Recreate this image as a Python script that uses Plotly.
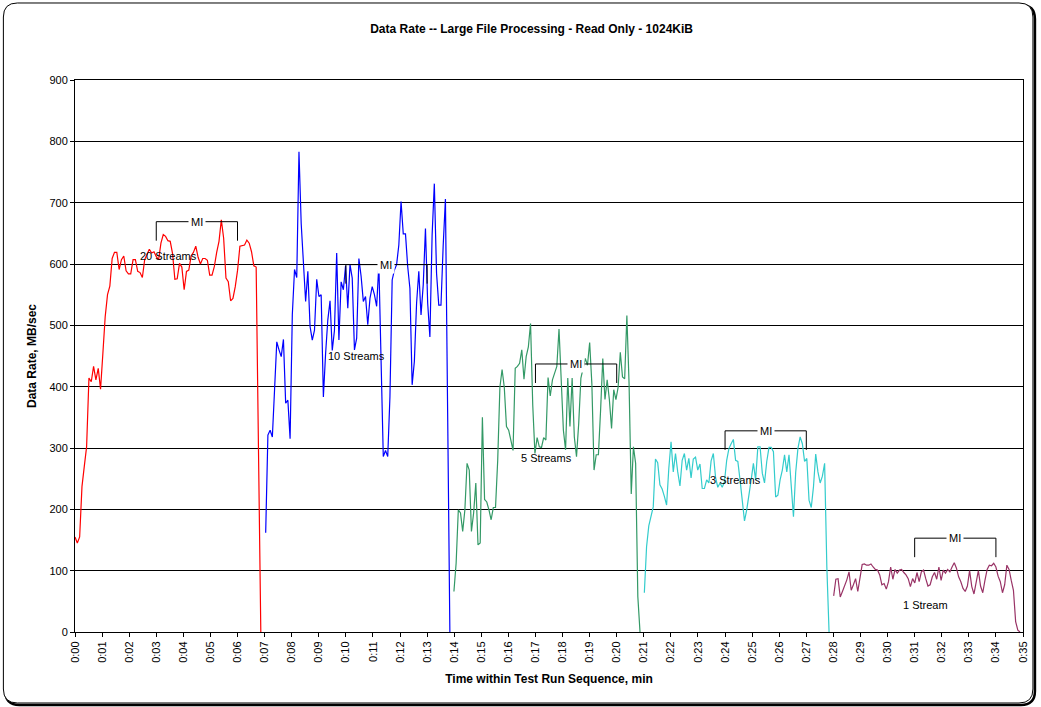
import numpy as np
import plotly.graph_objects as go

# --- data (minutes, MB/sec) ---
series_names = ["20 Streams", "10 Streams", "5 Streams", "3 Streams", "1 Stream"]
series_colors = ["#FF0000", "#0000FF", "#339966", "#33CCCC", "#993366"]
series_start = [0.00, 7.04, 13.99, 21.02, 28.01]
series_end = [6.86, 13.84, 20.86, 27.84, 34.89]

rate_20 = [155, 145, 155, 237, 270, 302, 414, 408, 433, 411, 430, 396, 454, 514, 550, 564, 609, 619, 619,
           591, 607, 613, 589, 584, 584, 607, 607, 588, 586, 578, 607, 617, 624, 618, 620, 612, 607, 634,
           648, 645, 638, 637, 617, 575, 576, 601, 595, 558, 588, 590, 613, 619, 629, 611, 600, 609, 609,
           606, 582, 582, 596, 619, 637, 672, 642, 577, 571, 540, 544, 563, 590, 629, 630, 631, 639, 634,
           620, 597, 595, 302, 0]
rate_10 = [162, 321, 329, 318, 395, 473, 460, 449, 477, 373, 378, 315, 517, 591, 578, 783, 666, 596, 539,
           588, 498, 476, 492, 575, 547, 550, 383, 454, 509, 540, 459, 492, 618, 476, 571, 558, 597, 528,
           599, 577, 460, 479, 609, 580, 539, 547, 501, 544, 563, 550, 531, 599, 449, 286, 296, 286, 384,
           574, 590, 599, 631, 702, 649, 649, 596, 560, 403, 441, 536, 588, 517, 566, 658, 536, 481, 647,
           731, 585, 533, 533, 631, 706, 357, 0]
rate_5 = [66, 112, 199, 194, 164, 199, 275, 264, 164, 194, 243, 142, 145, 350, 216, 212, 199, 183, 203,
          203, 280, 399, 428, 399, 335, 329, 313, 296, 430, 433, 438, 460, 412, 449, 465, 503, 370, 291,
          317, 302, 301, 317, 313, 415, 385, 411, 422, 433, 494, 411, 329, 297, 414, 335, 414, 318, 286,
          340, 414, 430, 446, 435, 472, 405, 264, 289, 289, 362, 446, 379, 411, 379, 332, 395, 379, 399,
          456, 416, 413, 516, 405, 225, 302, 275, 58, 0]
rate_3 = [64, 139, 173, 188, 204, 282, 276, 240, 233, 221, 207, 267, 310, 261, 291, 261, 238, 280, 291,
          264, 283, 251, 282, 285, 264, 274, 234, 234, 248, 243, 279, 291, 252, 236, 243, 236, 245, 280,
          299, 307, 314, 280, 278, 248, 218, 181, 199, 221, 248, 275, 248, 302, 302, 259, 243, 278, 301,
          301, 294, 220, 223, 248, 264, 289, 261, 289, 234, 188, 260, 299, 318, 307, 278, 283, 215, 203,
          237, 290, 261, 243, 254, 275, 106, 0]
rate_1 = [59, 86, 87, 57, 66, 75, 85, 98, 68, 77, 87, 66, 87, 110, 111, 109, 109, 111, 106, 102, 101, 93,
          77, 79, 70, 82, 106, 86, 102, 96, 101, 102, 97, 93, 87, 74, 87, 80, 97, 82, 98, 101, 87, 75, 77,
          90, 97, 86, 106, 84, 101, 96, 102, 98, 106, 113, 104, 90, 82, 71, 66, 75, 100, 74, 62, 79, 100,
          75, 64, 84, 102, 109, 108, 112, 106, 91, 82, 64, 77, 109, 102, 84, 68, 17, 3, 0]
series_values = [rate_20, rate_10, rate_5, rate_3, rate_1]

# label positions (minutes, MB/sec)
label_x = [3.45, 10.4, 17.4, 24.4, 31.4]
label_y = [613, 450, 283, 248, 44]

# measurement interval brackets
mi_start = [3, 10, 17, 24, 31]
mi_end = [6, 13, 20, 27, 34]
mi_level = [669, 599, 437, 328, 153]
mi_drop = 31

tick_vals = list(range(0, 36))
tick_text = ["0:%02d" % m for m in tick_vals]

FONT = "Liberation Sans, Arial, sans-serif"

fig = go.Figure()

for name, color, t0, t1, vals in zip(series_names, series_colors, series_start, series_end, series_values):
    fig.add_trace(go.Scatter(
        x=np.linspace(t0, t1, len(vals)),
        y=vals,
        mode="lines",
        name=name,
        line=dict(color=color, width=1.2),
        showlegend=False,
    ))

# stream labels
for name, lx, ly in zip(series_names, label_x, label_y):
    fig.add_annotation(x=lx, y=ly, text=name, showarrow=False,
                       font=dict(family=FONT, size=11, color="black"))

# MI brackets
for s, e, lvl in zip(mi_start, mi_end, mi_level):
    fig.add_shape(type="line", x0=s, x1=e, y0=lvl, y1=lvl, line=dict(color="black", width=1))
    fig.add_shape(type="line", x0=s, x1=s, y0=lvl, y1=lvl - mi_drop, line=dict(color="black", width=1))
    fig.add_shape(type="line", x0=e, x1=e, y0=lvl, y1=lvl - mi_drop, line=dict(color="black", width=1))
    fig.add_annotation(x=(s + e) / 2, y=lvl, text="MI", showarrow=False, bgcolor="white",
                       borderpad=2, font=dict(family=FONT, size=11, color="black"))

# outer chart frame (rounded, with shadow), in pixel -> paper units
L, T, W, H = 75, 80, 953, 552


def px(x):
    return (x - L) / W


def py(y):
    return (T + H - y) / H


def frame_path(x0, y0, x1, y1, r):
    return ("M %f %f L %f %f Q %f %f %f %f L %f %f Q %f %f %f %f "
            "L %f %f Q %f %f %f %f L %f %f Q %f %f %f %f Z") % (
        px(x0 + r), py(y0), px(x1 - r), py(y0),
        px(x1), py(y0), px(x1), py(y0 + r),
        px(x1), py(y1 - r),
        px(x1), py(y1), px(x1 - r), py(y1),
        px(x0 + r), py(y1),
        px(x0), py(y1), px(x0), py(y1 - r),
        px(x0), py(y0 + r),
        px(x0), py(y0), px(x0 + r), py(y0))


fig.add_shape(type="path", xref="paper", yref="paper", path=frame_path(5, 5, 1040, 705, 14),
              line=dict(color="black", width=2.5), layer="below")
fig.add_shape(type="path", xref="paper", yref="paper", path=frame_path(3, 3, 1038, 703, 14),
              line=dict(color="black", width=1), fillcolor="white", layer="below")

fig.update_layout(
    width=1041, height=707,
    margin=dict(l=L, r=1041 - L - W, t=T, b=707 - T - H),
    paper_bgcolor="white",
    plot_bgcolor="rgba(0,0,0,0)",
    font=dict(family=FONT, size=11, color="black"),
    title=dict(text="<b>Data Rate -- Large File Processing - Read Only - 1024KiB</b>",
               x=px(534), xref="paper", xanchor="center",
               y=1 - 29 / 707, yanchor="middle",
               font=dict(family=FONT, size=12, color="black")),
    xaxis=dict(
        range=[0, 35], tickmode="array", tickvals=tick_vals, ticktext=tick_text,
        tickangle=-90, ticks="outside", ticklen=4, tickcolor="black",
        showgrid=False, zeroline=False, showline=True, linecolor="black", linewidth=1, mirror=True,
        tickfont=dict(family=FONT, size=11, color="black"),
        title=dict(text="<b>Time within Test Run Sequence, min</b>", standoff=12,
                   font=dict(family=FONT, size=12, color="black")),
    ),
    yaxis=dict(
        range=[0, 900], dtick=100, ticks="outside", ticklen=4, tickcolor="black",
        showgrid=True, gridcolor="black", gridwidth=1,
        zeroline=False, showline=True, linecolor="black", linewidth=1, mirror=True,
        tickfont=dict(family=FONT, size=11, color="black"),
        title=dict(text="<b>Data Rate, MB/sec</b>", standoff=10,
                   font=dict(family=FONT, size=12, color="black")),
    ),
)

# page body has a default margin; drop it so the figure sits at the window origin
fig.write_html("out.html", config={"displayModeBar": False},
               post_script="document.body.style.margin = '0';")
